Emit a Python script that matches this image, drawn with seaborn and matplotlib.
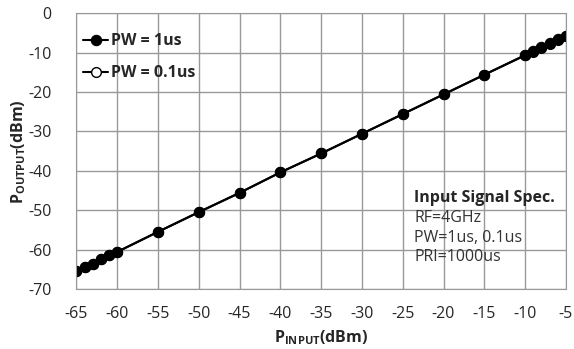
import numpy as np
import pandas as pd
import seaborn as sns
import matplotlib.pyplot as plt

# Données
p_input = [-65, -64, -63, -62, -61, -60, -55, -50, -45, -40, -35, -30,
           -25, -20, -15, -10, -9, -8, -7, -6, -5]
p_out_1us = [-65.5, -64.5, -63.6, -62.4, -61.5, -60.6, -55.5, -50.5, -45.6,
             -40.4, -35.6, -30.6, -25.6, -20.6, -15.6, -10.6, -9.6, -8.6,
             -7.6, -6.6, -5.7]
p_out_01us = [-65.5, -64.5, -63.6, -62.4, -61.5, -60.6, -55.5, -50.5, -45.6,
              -40.4, -35.6, -30.6, -25.6, -20.6, -15.6, -10.7, -9.9, -8.8,
              -7.9, -6.8, -5.8]
series_labels = ['PW = 1us', 'PW = 0.1us']
spec_title = 'Input Signal Spec.'
spec_lines = ['RF=4GHz', 'PW=1us, 0.1us', 'PRI=1000us']

df = pd.DataFrame({'input': p_input, 'pw1': p_out_1us, 'pw01': p_out_01us})

sns.set_style('white')
plt.rcParams['font.family'] = ['Open Sans', 'DejaVu Sans']
plt.rcParams['mathtext.default'] = 'regular'
plt.rcParams['axes.unicode_minus'] = False

fig, ax = plt.subplots(figsize=(5.74, 3.49), dpi=100)

sns.lineplot(data=df, x='input', y='pw01', ax=ax, color='black', lw=1.5,
             marker='o', markersize=7, markerfacecolor='white',
             markeredgecolor='black', markeredgewidth=1, label=series_labels[1])
sns.lineplot(data=df, x='input', y='pw1', ax=ax, color='black', lw=1.5,
             marker='o', markersize=7.5, markerfacecolor='black',
             markeredgecolor='black', label=series_labels[0])

ax.set_xlim(-65, -5)
ax.set_ylim(-70, 0)
ax.set_xticks(np.arange(-65, -4, 5))
ax.set_yticks(np.arange(-70, 1, 10))
ax.grid(True, color='#999999', lw=1)
for s in ax.spines.values():
    s.set_color('#999999')
ax.tick_params(length=0, labelsize=11.5)
ax.tick_params(axis='x', pad=12)
ax.tick_params(axis='y', pad=18)

ax.set_xlabel('P$_{INPUT}$(dBm)', fontsize=11.5, fontweight='bold', labelpad=5)
ax.set_ylabel('P$_{OUTPUT}$(dBm)', fontsize=11.5, fontweight='bold', labelpad=0)

handles, labels = ax.get_legend_handles_labels()
ax.legend(handles[::-1], labels[::-1], loc='upper left', frameon=False,
          prop={'weight': 'bold', 'size': 11.5}, handlelength=1.6,
          handletextpad=0.15, borderaxespad=0.0, labelspacing=1.0,
          bbox_to_anchor=(0.0, 0.95))

ax.text(-23.6, -46.9, spec_title, fontsize=11.5, fontweight='bold', va='center')
for i, line in enumerate(spec_lines):
    ax.text(-23.6, -52.0 - 4.95 * i, line, fontsize=11.5, color='#333333',
            va='center')

plt.subplots_adjust(left=0.133, right=0.986, top=0.962, bottom=0.172)
plt.savefig('out.png', dpi=100)
